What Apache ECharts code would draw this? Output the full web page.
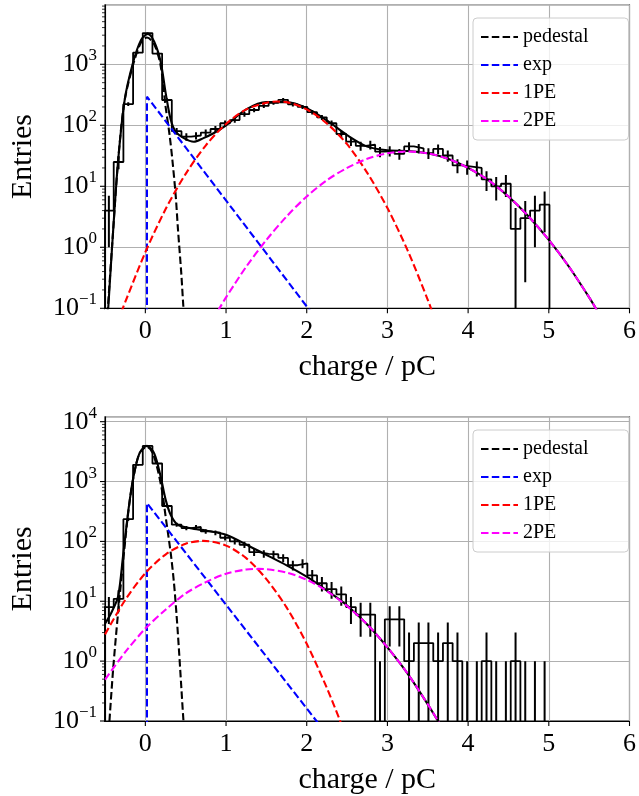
<!DOCTYPE html>
<html><head><meta charset="utf-8">
<script src="https://cdn.jsdelivr.net/npm/echarts@6/dist/echarts.min.js"></script>
<style>html,body{margin:0;padding:0;background:#fff}#c{width:639px;height:796px}</style>
</head><body><div id="c"></div>
<script>
// ---------------- data ----------------
const binStart = -0.512;
const binWidth = 0.12;
const xTicks = [0, 1, 2, 3, 4, 5, 6];
const yTicksTop = [0.1, 1, 10, 100, 1000];
const yTicksBottom = [0.1, 1, 10, 100, 1000, 10000];
const legendNames = ['pedestal', 'exp', '1PE', '2PE'];

const countsTop = [4, 25, 223, 1550, 3250, 1500, 260, 80, 65, 68, 76, 87, 108, 122, 152, 178, 208, 233, 262, 220,
  200, 164, 135, 108, 72, 54, 46, 48, 37, 38, 34, 45, 42, 35, 41, 32, 22, 21, 20, 13, 10, 11, 2, 3, 4, 5];
const countsBottom = [8, 11, 235, 1900, 3940, 2000, 390, 190, 167, 174, 147, 140, 115, 100, 88, 66, 62, 61, 53, 40,
  43, 27, 20, 16, 13, 8, 6, 6, 0, 5, 5, 1, 2, 2, 1, 2, 1, 0, 0, 1, 0, 0, 1, 0, 0, 0];

// top panel curves
const totalTopX = [-0.46, -0.40, -0.34, -0.257, -0.154, -0.053, 0.03, 0.11, 0.19, 0.253, 0.315, 0.376, 0.477, 0.60, 0.72, 0.845, 1.0, 1.25, 1.5, 1.75, 2.0, 2.25, 2.5, 2.75, 3.0, 3.25, 3.5, 3.75, 4.0, 4.25, 4.5, 4.75, 5.0, 5.25, 5.5, 5.6];
const totalTopY = [0.1, 1.8, 24, 257, 1047, 2512, 3150, 2344, 1096, 331, 123, 78.5, 61.7, 53.7, 61.7, 74.1, 100, 182, 240, 240, 191, 120, 69.2, 44.7, 38.9, 38, 34.7, 28.2, 20, 12.6, 6.8, 3.2, 1.32, 0.48, 0.151, 0.091];
const pedTopX = [-0.47, -0.40, -0.34, -0.26, -0.15, -0.05, 0.02, 0.11, 0.19, 0.25, 0.30, 0.335, 0.376, 0.404, 0.445, 0.47, 0.49];
const pedTopY = [0.079, 1.8, 24, 240, 1000, 2350, 2750, 2130, 940, 207, 70, 27, 7.1, 2.0, 0.38, 0.112, 0.05];
const expTopX = [0.02, 0.02, 2.1];
const expTopY = [0.05, 295, 0.072];
const pe1TopX = [-0.3, -0.25, 0, 0.25, 0.5, 0.75, 1.0, 1.25, 1.5, 1.63, 1.75, 2.0, 2.25, 2.5, 2.75, 3.0, 3.25, 3.5, 3.6];
const pe1TopY = [0.085, 0.126, 0.83, 4.2, 16, 47, 105, 182, 234, 245, 240, 182, 107, 49, 16.6, 4.4, 0.89, 0.138, 0.06];
const pe2TopX = [0.9, 1.0, 1.25, 1.5, 1.75, 2.0, 2.25, 2.5, 2.75, 3.0, 3.25, 3.5, 3.75, 4.0, 4.25, 4.5, 4.75, 5.0, 5.25, 5.5, 5.6];
const pe2TopY = [0.091, 0.151, 0.48, 1.32, 3.2, 6.8, 12.6, 20, 28.2, 34.7, 37.2, 34.7, 28.2, 20, 12.6, 6.8, 3.2, 1.32, 0.48, 0.151, 0.091];

// bottom panel curves
const totalBotX = [-0.5, -0.42, -0.338, -0.277, -0.215, -0.154, -0.073, 0.02, 0.11, 0.19, 0.253, 0.315, 0.40, 0.56, 0.76, 1.0, 1.29, 1.535, 1.78, 2.0, 2.25, 2.5, 2.75, 3.0, 3.25, 3.5, 3.65];
const totalBotY = [4.2, 6.5, 12, 56, 295, 1072, 2951, 3936, 2951, 1202, 489, 277, 191, 166, 151, 129, 83.2, 56.2, 38, 25.7, 15.1, 8.5, 4.1, 1.7, 0.62, 0.19, 0.089];
const pedBotX = [-0.445, -0.40, -0.34, -0.277, -0.215, -0.154, -0.073, 0.02, 0.10, 0.20, 0.253, 0.315, 0.355, 0.388, 0.416, 0.445, 0.47, 0.49];
const pedBotY = [0.1, 0.71, 6, 44, 280, 1050, 2950, 3800, 2820, 794, 250, 63, 20, 5.6, 1.58, 0.38, 0.112, 0.05];
const expBotX = [0.02, 0.02, 2.15];
const expBotY = [0.05, 437, 0.089];
const pe1BotX = [-0.5, -0.25, 0, 0.25, 0.5, 0.72, 1.0, 1.25, 1.5, 1.75, 2.0, 2.25, 2.4, 2.45];
const pe1BotY = [2.8, 10.5, 29.5, 60.3, 91.2, 102, 85.1, 52.5, 23.4, 7.9, 1.95, 0.355, 0.112, 0.074];
const pe2BotX = [-0.5, -0.25, 0, 0.25, 0.5, 0.75, 1.0, 1.25, 1.4, 1.5, 1.75, 2.0, 2.25, 2.5, 2.75, 3.0, 3.25, 3.5, 3.65];
const pe2BotY = [0.49, 1.41, 3.5, 7.2, 13.5, 20.9, 28.8, 33.9, 34.7, 34.3, 30.2, 22.9, 14.8, 8.3, 4.1, 1.7, 0.62, 0.19, 0.089];

// ---------------- layout / style ----------------
const FONT = 'Liberation Serif';
const TINY = 1e-4;
const grids = [
  { left: 103.5, top: 4.7, width: 531, height: 303.6 },
  { left: 103.5, top: 416.7, width: 531, height: 305 }
];
const yMax = [9484, 12110];
const panels = [
  { counts: countsTop, total: [totalTopX, totalTopY], ped: [pedTopX, pedTopY], exp: [expTopX, expTopY], pe1: [pe1TopX, pe1TopY], pe2: [pe2TopX, pe2TopY], yTicks: yTicksTop },
  { counts: countsBottom, total: [totalBotX, totalBotY], ped: [pedBotX, pedBotY], exp: [expBotX, expBotY], pe1: [pe1BotX, pe1BotY], pe2: [pe2BotX, pe2BotY], yTicks: yTicksBottom }
];
const legendTops = [18, 430];

function zip(xs, ys) { return xs.map((x, i) => [x, ys[i]]); }
function stepPoints(counts) {
  const pts = [[binStart, TINY]];
  counts.forEach((n, i) => {
    const v = n > 0 ? n : TINY;
    pts.push([binStart + i * binWidth, v], [binStart + (i + 1) * binWidth, v]);
  });
  pts.push([binStart + counts.length * binWidth, TINY]);
  return pts;
}
function errorData(counts) {
  return counts.map((n, i) => {
    const e = Math.sqrt(n) + 1;
    const lo = n - e > 0 ? n - e : TINY;
    return [binStart + (i + 0.5) * binWidth, lo, n + e];
  });
}
function yLabel(v) {
  const l = Math.log10(v);
  const e = Math.round(l);
  if (Math.abs(l - e) > 1e-6) return '';
  return '{b|10}{s|' + (e < 0 ? '\u2212' + (-e) : e) + '}';
}
function xLabel(v) {
  return Math.abs(v - Math.round(v)) < 1e-9 ? String(Math.round(v)) : '';
}

const xAxes = [], yAxes = [], series = [], legends = [];
panels.forEach((P, p) => {
  xAxes.push({
    type: 'value', gridIndex: p, min: -0.5, max: 6,
    axisLine: { show: true, onZero: false, lineStyle: { color: '#000', width: 1.1 } },
    axisTick: { show: false },
    splitLine: { show: true, lineStyle: { color: '#b0b0b0', width: 1.1 } },
    axisLabel: { formatter: xLabel, color: '#000', fontFamily: FONT, fontSize: 26, margin: 10 },
    name: 'charge / pC', nameLocation: 'middle', nameGap: 44,
    nameTextStyle: { fontFamily: FONT, fontSize: 30, color: '#000' }
  });
  yAxes.push({
    type: 'log', logBase: 10, gridIndex: p, min: 0.1, max: yMax[p],
    axisLine: { show: true, onZero: false, lineStyle: { color: '#000', width: 1.1 } },
    axisTick: { show: false },
    splitLine: { show: true, lineStyle: { color: '#b0b0b0', width: 1.1 } },
    axisLabel: {
      formatter: yLabel, margin: 8, color: '#000',
      rich: {
        b: { fontFamily: FONT, fontSize: 26, lineHeight: 34, color: '#000' },
        s: { fontFamily: FONT, fontSize: 17, lineHeight: 17, verticalAlign: 'top', color: '#000' }
      }
    },
    name: 'Entries', nameLocation: 'middle', nameGap: 67,
    nameTextStyle: { fontFamily: FONT, fontSize: 30, color: '#000' }
  });

  const ax = { xAxisIndex: p, yAxisIndex: p };
  // histogram
  series.push(Object.assign({
    type: 'line', name: 'hist' + p, data: stepPoints(P.counts), symbol: 'none', silent: true,
    lineStyle: { color: '#000', width: 1.8 }, z: 3, clip: true
  }, ax));
  // error bars
  series.push(Object.assign({
    type: 'custom', name: 'err' + p, data: errorData(P.counts), encode: { x: 0, y: [1, 2] }, clip: true, z: 3, silent: true,
    renderItem: function (params, api) {
      const a = api.coord([api.value(0), api.value(1)]);
      const b = api.coord([api.value(0), api.value(2)]);
      return { type: 'line', shape: { x1: a[0], y1: a[1], x2: b[0], y2: b[1] }, style: { stroke: '#000', lineWidth: 2 } };
    }
  }, ax));
  // total fit
  series.push(Object.assign({
    type: 'line', name: 'total' + p, data: zip(P.total[0], P.total[1]), symbol: 'none', smooth: 0.3, silent: true,
    lineStyle: { color: '#000', width: 2.1 }, z: 4, clip: true
  }, ax));
  const comps = [['pedestal', P.ped, '#000000', 0.3], ['exp', P.exp, '#0000ff', false], ['1PE', P.pe1, '#ff0000', 0.3], ['2PE', P.pe2, '#ff00ff', 0.3]];
  comps.forEach(c => {
    series.push(Object.assign({
      type: 'line', name: c[0], data: zip(c[1][0], c[1][1]), symbol: 'none', smooth: c[3], silent: true,
      lineStyle: { color: c[2], width: 2.1, type: [7.5, 3.3] }, itemStyle: { color: c[2] }, z: 5, clip: true
    }, ax));
  });
  // y ticks (major and minor)
  const yt = [];
  P.yTicks.forEach(v => { yt.push([-0.5, v, 5]); });
  P.yTicks.forEach(v => { for (let m = 2; m <= 9; m++) { const mv = v * m; if (mv <= yMax[p]) yt.push([-0.5, mv, 3]); } });
  series.push(Object.assign({
    type: 'custom', name: 'yticks' + p, data: yt, encode: { x: 0, y: 1 }, clip: false, silent: true, z: 6,
    renderItem: function (params, api) {
      const a = api.coord([api.value(0), api.value(1)]);
      const len = api.value(2);
      return { type: 'line', shape: { x1: a[0] - len, y1: a[1], x2: a[0], y2: a[1] }, style: { stroke: '#000', lineWidth: len > 4 ? 1.1 : 0.8 } };
    }
  }, ax));
  // x ticks
  series.push(Object.assign({
    type: 'custom', name: 'xticks' + p, data: xTicks.map(v => [v, 0.1]), encode: { x: 0, y: 1 }, clip: false, silent: true, z: 6,
    renderItem: function (params, api) {
      const a = api.coord([api.value(0), api.value(1)]);
      return { type: 'line', shape: { x1: a[0], y1: a[1], x2: a[0], y2: a[1] + 5 }, style: { stroke: '#000', lineWidth: 1.1 } };
    }
  }, ax));

  legends.push({
    data: legendNames, orient: 'vertical', left: 473, top: legendTops[p],
    itemWidth: 37, itemHeight: 14, itemGap: 8,
    itemStyle: { opacity: 0 },
    textStyle: { fontFamily: FONT, fontSize: 20, color: '#000' },
    padding: [9, 40, 9, 7], borderColor: '#cccccc', borderWidth: 1, borderRadius: 4,
    backgroundColor: 'rgba(255,255,255,0.8)', selectedMode: false
  });
});

const chart = echarts.init(document.getElementById('c'), null, { renderer: 'canvas' });
chart.setOption({
  animation: false,
  backgroundColor: '#fff',
  grid: grids.map(g => Object.assign({ show: true, borderColor: '#000', borderWidth: 1.1, backgroundColor: 'transparent', containLabel: false }, g)),
  xAxis: xAxes,
  yAxis: yAxes,
  legend: legends,
  series: series
});
</script>
</body></html>
